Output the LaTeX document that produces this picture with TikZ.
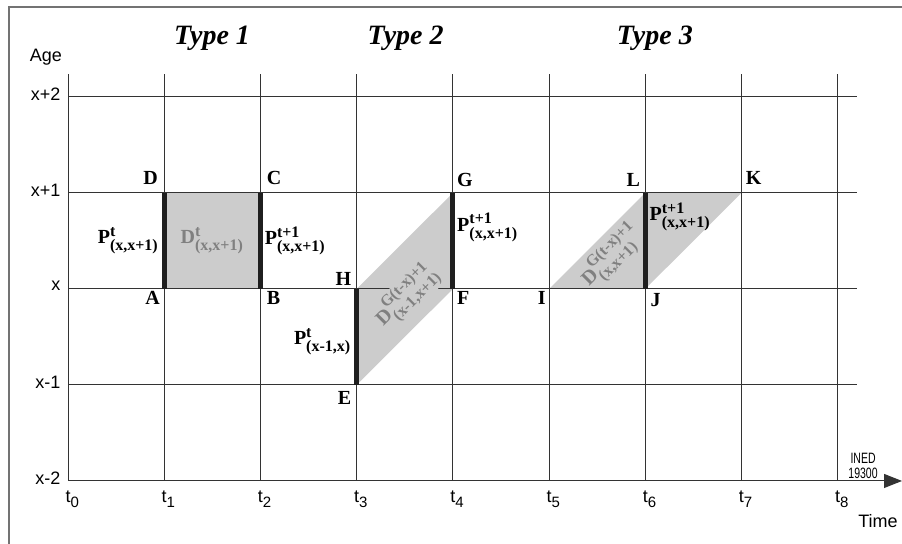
\documentclass[tikz,border=0pt]{standalone}
\usepackage{fontspec}
\setmainfont{Liberation Serif}
\setsansfont{Liberation Sans}
\usepackage{amsmath}
\usepackage{graphicx}
\usepackage{tikz}
\usetikzlibrary{arrows.meta,positioning,calc}
\DeclareMathSizes{10}{10}{8}{6}
\definecolor{lexshade}{gray}{0.80}
\definecolor{lextext}{gray}{0.50}
\newcommand{\tsub}[1]{t\raisebox{-2.3pt}{\fontsize{7.5}{9}\selectfont #1}}
\tikzset{
  gline/.style   ={draw=black!80, line width=0.5pt},
  frame/.style   ={draw=black!55, line width=0.8pt},
  zone/.style    ={fill=lexshade},
  pop/.style     ={draw=black!88, line width=2.6pt},
  ptlab/.style   ={font=\bfseries\fontsize{10}{12}\selectfont, inner sep=0pt},
  poplab/.style  ={font=\bfseries\fontsize{10}{12}\selectfont, inner sep=0.5pt},
  deathlab/.style={poplab, text=lextext},
  axlab/.style   ={font=\sffamily\fontsize{9}{11}\selectfont, inner sep=0pt},
  typelab/.style ={font=\bfseries\itshape\fontsize{14}{16}\selectfont},
}

\begin{document}
\begin{tikzpicture}[x=48.1pt, y=48pt]

\useasboundingbox (-0.707,-0.656) rectangle (8.669,5.010);
\draw[frame] (-0.613,-0.8) |- (8.9,4.9375);

% corner points of the Lexis cells
\coordinate (A) at (1,2);
\coordinate (B) at (2,2);
\coordinate (C) at (2,3);
\coordinate (D) at (1,3);
\coordinate (E) at (3,1);
\coordinate (F) at (4,2);
\coordinate (G) at (4,3);
\coordinate (H) at (3,2);
\coordinate (I) at (5,2);
\coordinate (J) at (6,2);
\coordinate (K) at (7,3);
\coordinate (L) at (6,3);

\fill[zone] (A) rectangle (C);
\fill[zone] (E) -- (F) -- (G) -- (H) -- cycle;
\fill[zone] (I) -- (J) -- (K) -- (L) -- cycle;

\foreach \i in {0,...,8}
  \draw[gline] (\i,0) -- (\i,4.24);
\foreach \j in {1,...,4}
  \draw[gline] (0,\j) -- (8.202,\j);
\draw[gline, -{Triangle[length=9pt,width=7pt]}] (0,0) -- (8.669,0);

\draw[pop] (A) -- (D);
\draw[pop] (B) -- (C);
\draw[pop] (E) -- (H);
\draw[pop] (F) -- (G);
\draw[pop] (J) -- (L);

% axes
\foreach \j/\lab in {0/x-2,1/x-1,2/x,3/x+1,4/x+2}
  \node[axlab, anchor=east] (age\j) at (-0.075,\j+0.03) {\lab};
\foreach \i in {0,...,8}
  \node[axlab, anchor=north west] (t\i) at (\i-0.03,-0.1) {\tsub{\i}};
\node[axlab] (age) at (-0.229,4.417) {Age};
\node[axlab] (time) at (8.42,-0.42) {Time};
\node[font=\sffamily\fontsize{7.5}{7.6}\selectfont, align=center, inner sep=0pt] (ined)
  at (8.264,0.156) {\scalebox{0.7}[1]{INED}\\\scalebox{0.7}[1]{19300}};

\node[typelab] (type1) at (1.497,4.61) {Type 1};
\node[typelab] (type2) at (3.51,4.61) {Type 2};
\node[typelab] (type3) at (6.10,4.61) {Type 3};

% point letters
\node[ptlab, above left=4pt and 3pt of D] (labD) {D};
\node[ptlab, above right=4pt and 3pt of C] (labC) {C};
\node[ptlab, below left=1pt and 2pt of A] (labA) {A};
\node[ptlab, below right=1pt and 3pt of B] (labB) {B};
\node[ptlab, above left=1.5pt and 2.5pt of H] (labH) {H};
\node[ptlab, above right=3pt and 2pt of G] (labG) {G};
\node[ptlab, below right=1pt and 2pt of F] (labF) {F};
\node[ptlab, below left=3pt and 2.5pt of E] (labE) {E};
\node[ptlab, below left=1pt and 1.5pt of I] (labI) {I};
\node[ptlab, below right=2pt and 2.5pt of J] (labJ) {J};
\node[ptlab, above left=3pt and 2.5pt of L] (labL) {L};
\node[ptlab, above right=4pt and 2pt of K] (labK) {K};

% populations and deaths
\node[poplab, left=2pt of $(A)!0.5!(D)$] (pAD) {P$^{\text{t}}_{\text{(x,x+1)}}$};
\node[deathlab] (dABCD) at ($(A)!0.5!(C)$) {D$^{\text{t}}_{\text{(x,x+1)}}$};
\node[poplab, right=1.5pt of $(B)!0.5!(C)$] (pBC) {P$^{\text{t+1}}_{\text{(x,x+1)}}$};
\node[poplab, left=2pt of $(E)!0.45!(H)$] (pEH) {P$^{\text{t}}_{\text{(x-1,x)}}$};
\node[poplab, right=1.5pt of $(F)!0.64!(G)$] (pFG) {P$^{\text{t+1}}_{\text{(x,x+1)}}$};
\node[poplab, right=1.5pt of $(J)!0.75!(L)$] (pJL) {P$^{\text{t+1}}_{\text{(x,x+1)}}$};
\node[deathlab, rotate=45, fill=lexshade] (dEFGH) at ($(H)!0.5!(F)+(0.02,-0.07)$)
  {D$^{\text{G(t-x)+1}}_{\text{(x-1,x+1)}}$};
\node[deathlab, rotate=45, inner sep=0pt] (dIJL) at ($(I)+(0.65,0.34)$)
  {D$^{\text{G(t-x)+1}}_{\text{(x,x+1)}}$};

\end{tikzpicture}
\end{document}
